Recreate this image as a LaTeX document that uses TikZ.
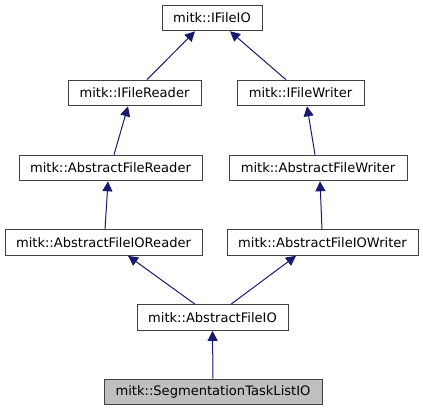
\documentclass[tikz,border=0pt]{standalone}
\usepackage{fontspec}
\setmainfont{DejaVu Sans}
\usetikzlibrary{arrows.meta,calc}
\definecolor{edgeblue}{HTML}{191970}
\definecolor{boxline}{HTML}{404040}
\definecolor{boxgray}{HTML}{BFBFBF}
\tikzset{
  classbox/.style={draw=boxline, line width=0.75pt, inner sep=0pt, minimum height=19.2pt,
    font=\fontsize{9.8}{11}\selectfont},
  inherit/.style={draw=edgeblue, line width=0.75pt, -{Triangle[length=7.5pt,width=7.5pt]}}
}
\begin{document}
\begin{tikzpicture}[x=0.75pt, y=-0.75pt]
    % Fix the page to the picture size
    \useasboundingbox (0,0) rectangle (423,411);

    % Classes
    \node[classbox, minimum width=75pt] (fileio) at (212,18) {mitk::IFileIO};
    \node[classbox, minimum width=99.75pt] (reader) at (134.5,93) {mitk::IFileReader};
    \node[classbox, minimum width=95.25pt] (writer) at (300.5,93) {mitk::IFileWriter};
    \node[classbox, minimum width=137.25pt] (absreader) at (110.5,168) {mitk::AbstractFileReader};
    \node[classbox, minimum width=133.5pt] (abswriter) at (318,168) {mitk::AbstractFileWriter};
    \node[classbox, minimum width=147.75pt] (ioreader) at (103.5,242.5) {mitk::AbstractFileIOReader};
    \node[classbox, minimum width=143.25pt] (iowriter) at (322.5,242.5) {mitk::AbstractFileIOWriter};
    \node[classbox, minimum width=113.25pt] (absio) at (212.5,317.5) {mitk::AbstractFileIO};
    \node[classbox, fill=boxgray, minimum width=163.5pt] (seg) at (213,392) {mitk::SegmentationTaskListIO};

    % Inheritance arrows
    \draw[inherit] ($(reader.north)+(12.5,0)$) -- ($(fileio.south)+(-17,0)$);
    \draw[inherit] ($(writer.north)+(-14.5,0)$) -- ($(fileio.south)+(18,0)$);
    \draw[inherit] ($(absreader.north)+(3.5,0)$) -- ($(reader.south)+(-6.5,0)$);
    \draw[inherit] ($(abswriter.north)+(-3,0)$) -- ($(writer.south)+(6.5,0)$);
    \draw[inherit] ($(ioreader.north)+(1.5,0)$) -- ($(absreader.south)+(-2.5,0)$);
    \draw[inherit] ($(iowriter.north)+(-0.5,0)$) -- ($(abswriter.south)+(2,0)$);
    \draw[inherit] ($(absio.north)+(-17.5,0)$) -- ($(ioreader.south)+(24.5,0)$);
    \draw[inherit] ($(absio.north)+(18.5,0)$) -- ($(iowriter.south)+(-26.5,0)$);
    \draw[inherit] (seg.north) -- (absio.south);
\end{tikzpicture}
\end{document}
